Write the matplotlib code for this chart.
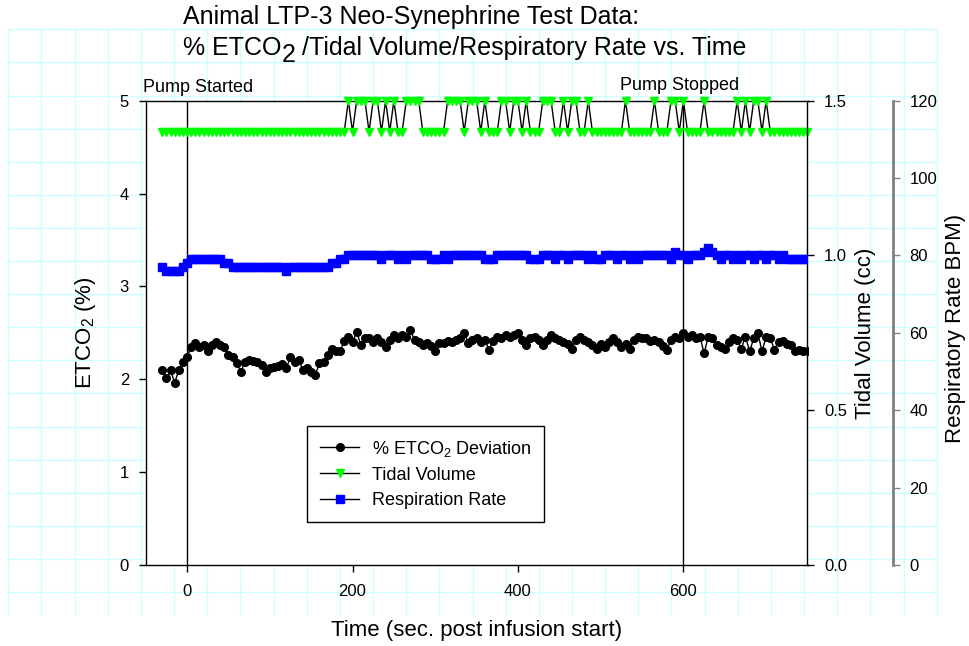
import matplotlib
matplotlib.use('Agg')
import matplotlib.pyplot as plt
from matplotlib.lines import Line2D
import numpy as np

plt.rcParams['font.family'] = ['Liberation Sans', 'DejaVu Sans']
plt.rcParams['mathtext.default'] = 'regular'

# samples every 5 s, -30 .. 750 s
time_s = np.arange(-30, 751, 5)

etco2_pct = [
    2.10, 2.01, 2.10, 1.96, 2.10, 2.19, 2.24, 2.35, 2.39, 2.35,
    2.37, 2.30, 2.37, 2.40, 2.37, 2.35, 2.26, 2.24, 2.18, 2.08,
    2.19, 2.21, 2.20, 2.19, 2.15, 2.08, 2.12, 2.13, 2.14, 2.16,
    2.12, 2.24, 2.19, 2.21, 2.10, 2.12, 2.08, 2.05, 2.17, 2.19,
    2.26, 2.33, 2.30, 2.30, 2.41, 2.46, 2.40, 2.51, 2.37, 2.44,
    2.44, 2.40, 2.44, 2.40, 2.35, 2.42, 2.48, 2.44, 2.48, 2.46,
    2.53, 2.42, 2.40, 2.37, 2.39, 2.36, 2.30, 2.39, 2.39, 2.41,
    2.40, 2.42, 2.44, 2.50, 2.39, 2.42, 2.44, 2.40, 2.42, 2.32,
    2.41, 2.46, 2.44, 2.48, 2.46, 2.48, 2.50, 2.42, 2.37, 2.44,
    2.46, 2.42, 2.37, 2.42, 2.48, 2.44, 2.42, 2.40, 2.38, 2.33,
    2.42, 2.46, 2.42, 2.40, 2.37, 2.33, 2.38, 2.35, 2.40, 2.44,
    2.40, 2.35, 2.38, 2.33, 2.42, 2.46, 2.44, 2.44, 2.41, 2.42,
    2.40, 2.36, 2.32, 2.42, 2.46, 2.44, 2.50, 2.46, 2.48, 2.44,
    2.46, 2.28, 2.46, 2.44, 2.37, 2.35, 2.33, 2.40, 2.44, 2.42,
    2.33, 2.46, 2.30, 2.44, 2.50, 2.30, 2.46, 2.44, 2.32, 2.40,
    2.41, 2.38, 2.37, 2.30, 2.31, 2.30, 2.30,
]

tidal_cc = [
    1.4, 1.4, 1.4, 1.4, 1.4, 1.4, 1.4, 1.4, 1.4, 1.4,
    1.4, 1.4, 1.4, 1.4, 1.4, 1.4, 1.4, 1.4, 1.4, 1.4,
    1.4, 1.4, 1.4, 1.4, 1.4, 1.4, 1.4, 1.4, 1.4, 1.4,
    1.4, 1.4, 1.4, 1.4, 1.4, 1.4, 1.4, 1.4, 1.4, 1.4,
    1.4, 1.4, 1.4, 1.4, 1.4, 1.5, 1.4, 1.5, 1.5, 1.5,
    1.4, 1.5, 1.5, 1.4, 1.5, 1.4, 1.5, 1.4, 1.4, 1.5,
    1.5, 1.5, 1.5, 1.4, 1.4, 1.4, 1.4, 1.4, 1.4, 1.5,
    1.5, 1.5, 1.5, 1.4, 1.5, 1.5, 1.5, 1.4, 1.5, 1.4,
    1.4, 1.4, 1.5, 1.5, 1.4, 1.5, 1.5, 1.4, 1.5, 1.4,
    1.4, 1.4, 1.5, 1.5, 1.5, 1.4, 1.4, 1.5, 1.4, 1.5,
    1.5, 1.4, 1.4, 1.5, 1.4, 1.4, 1.4, 1.4, 1.4, 1.4,
    1.4, 1.4, 1.5, 1.4, 1.4, 1.4, 1.4, 1.4, 1.4, 1.5,
    1.4, 1.4, 1.4, 1.5, 1.5, 1.4, 1.5, 1.4, 1.4, 1.4,
    1.4, 1.5, 1.4, 1.4, 1.4, 1.4, 1.4, 1.4, 1.4, 1.5,
    1.4, 1.5, 1.4, 1.5, 1.5, 1.4, 1.5, 1.4, 1.4, 1.4,
    1.4, 1.4, 1.4, 1.4, 1.4, 1.4, 1.4,
]

resp_bpm = [
    77, 76, 76, 76, 76, 77, 78, 79, 79, 79,
    79, 79, 79, 79, 79, 78, 78, 77, 77, 77,
    77, 77, 77, 77, 77, 77, 77, 77, 77, 77,
    76, 77, 77, 77, 77, 77, 77, 77, 77, 77,
    77, 78, 78, 79, 79, 80, 80, 80, 80, 80,
    80, 80, 80, 79, 80, 80, 80, 79, 80, 79,
    80, 80, 80, 80, 80, 79, 79, 79, 80, 79,
    80, 80, 80, 80, 80, 80, 80, 80, 79, 79,
    79, 80, 80, 80, 80, 80, 80, 80, 80, 79,
    79, 79, 80, 80, 80, 79, 80, 80, 79, 80,
    80, 80, 80, 79, 80, 79, 79, 80, 80, 80,
    79, 80, 80, 79, 80, 79, 80, 80, 80, 80,
    80, 80, 80, 79, 81, 80, 80, 79, 80, 80,
    80, 81, 82, 81, 80, 79, 80, 80, 79, 80,
    79, 80, 80, 79, 80, 80, 79, 80, 80, 79,
    80, 79, 79, 79, 79, 79, 79,
]

x_ticks = [0, 200, 400, 600]
etco2_ticks = [0, 1, 2, 3, 4, 5]
tidal_ticks = [0.0, 0.5, 1.0, 1.5]
resp_ticks = [0, 20, 40, 60, 80, 100, 120]
pump_times = [0, 600]
pump_labels = ['Pump Started', 'Pump Stopped']

W, H = 969, 646
fig = plt.figure(figsize=(W / 100, H / 100), dpi=100)


def fx(px):
    return px / W


def fy(py):
    return 1 - py / H


# graph paper behind everything
grid_c = '#ccffff'
for k in range(29):
    x = 8.3 + 33.16 * k
    fig.add_artist(Line2D([fx(x), fx(x)], [fy(29.3), fy(615)], transform=fig.transFigure,
                          color=grid_c, lw=1, zorder=-5))
for k in range(18):
    y = 29.3 + 33.1 * k
    fig.add_artist(Line2D([fx(8.3), fx(936.8)], [fy(y), fy(y)], transform=fig.transFigure,
                          color=grid_c, lw=1, zorder=-5))

ax = fig.add_axes([fx(145.7), fy(565), (807.5 - 145.7) / W, (565 - 100.7) / H])
ax2 = ax.twinx()
ax3 = ax.twinx()

l1, = ax.plot(time_s, etco2_pct, color='black', lw=1, marker='o', ms=5.5,
              mfc='black', mec='black', label='% ETCO$_2$ Deviation')
l2, = ax2.plot(time_s, tidal_cc, color='black', lw=1, marker='v', ms=5.2,
               mfc='#00ff00', mec='#00ff00', clip_on=False, label='Tidal Volume')
l3, = ax3.plot(time_s, resp_bpm, color='black', lw=1, marker='s', ms=5.3,
               mfc='#0000ff', mec='#0000ff', label='Respiration Rate')

for t in pump_times:
    ax.axvline(t, color='black', lw=1)

ax.set_xlim(-50, 750)
ax.set_ylim(0, 5)
ax2.set_ylim(0, 1.5)
ax3.set_ylim(0, 120)

ax.set_xticks(x_ticks)
ax.set_yticks(etco2_ticks)
ax2.set_yticks(tidal_ticks)
ax2.set_yticklabels([f'{v:.1f}' for v in tidal_ticks])
ax3.set_yticks(resp_ticks)

for s in ax.spines.values():
    s.set_linewidth(1)
ax.spines['right'].set_visible(False)
ax2.spines['right'].set_linewidth(1)
for s in ('left', 'top', 'bottom'):
    ax2.spines[s].set_visible(False)
    ax3.spines[s].set_visible(False)
ax3.spines['right'].set_position(('axes', 1.129))
ax3.spines['right'].set_color('#808080')
ax3.spines['right'].set_linewidth(2)

ax.tick_params(axis='y', direction='out', length=5, width=1, labelsize=12, pad=7)
ax.tick_params(axis='x', direction='out', length=5, width=1, labelsize=12, pad=9)
ax2.tick_params(axis='y', direction='out', length=5, width=1, labelsize=12, pad=7)
ax3.tick_params(axis='y', direction='out', length=5, width=1, color='#808080',
                labelsize=12, pad=7)

# titles and axis labels
fig.text(fx(183), fy(24), 'Animal LTP-3 Neo-Synephrine Test Data:', size=18, va='baseline')
r = fig.canvas.get_renderer()
t1 = fig.text(fx(183), fy(55), '% ETCO', size=18, va='baseline')
bb = t1.get_window_extent(renderer=r)
t2 = fig.text(bb.x1 / W, fy(62), '2', size=18, va='baseline')
bb2 = t2.get_window_extent(renderer=r)
fig.text(bb2.x1 / W, fy(55), ' /Tidal Volume/Respiratory Rate vs. Time', size=18, va='baseline')

fig.text(fx(476.6), fy(636), 'Time (sec. post infusion start)', size=16, ha='center', va='baseline')
fig.text(fx(86), fy(333), 'ETCO$_2$ (%)', size=16, rotation=90, ha='center', va='center')
fig.text(fx(865), fy(333), 'Tidal Volume (cc)', size=16, rotation=90, ha='center', va='center')
fig.text(fx(955), fy(328), 'Respiratory Rate BPM)', size=16, rotation=90, ha='center', va='center')

fig.text(fx(143), fy(91.7), pump_labels[0], size=13, va='baseline')
fig.text(fx(620), fy(90), pump_labels[1], size=13, va='baseline')

leg = ax3.legend([l1, l2, l3], [l1.get_label(), l2.get_label(), l3.get_label()],
                 loc='upper left', bbox_to_anchor=(fx(307), fy(426)),
                 bbox_transform=fig.transFigure, borderaxespad=0, fancybox=False,
                 edgecolor='black', framealpha=1, fontsize=13, handlelength=2.2,
                 handletextpad=0.7, labelspacing=0.45, borderpad=0.7)
leg.get_frame().set_linewidth(1)

fig.savefig('out.png', dpi=100)
